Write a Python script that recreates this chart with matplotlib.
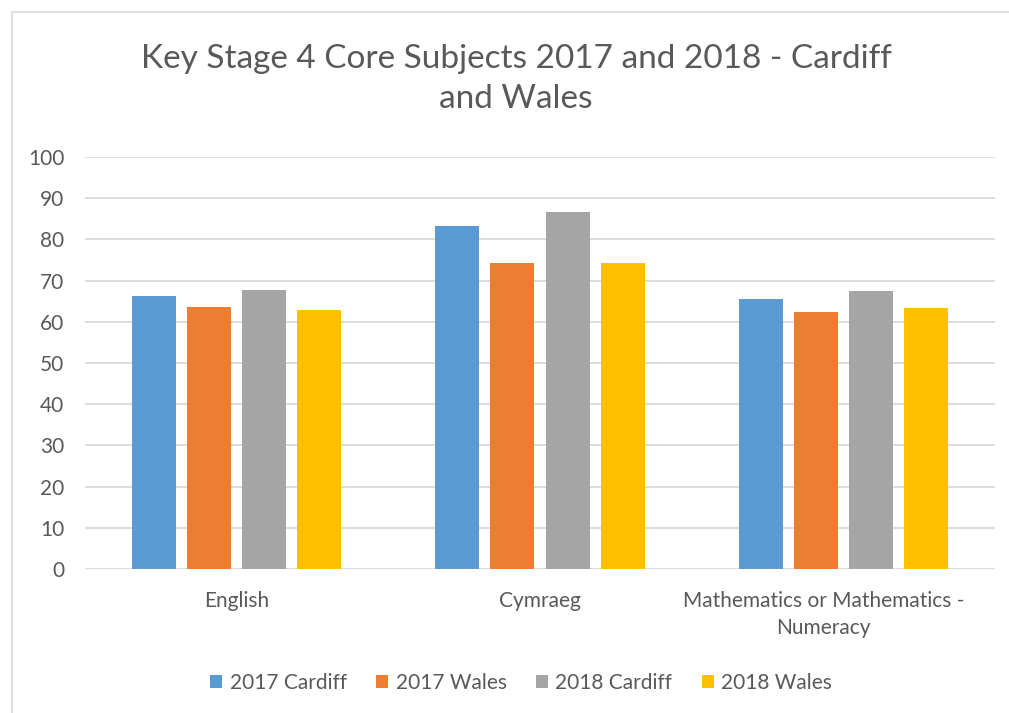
import matplotlib
matplotlib.use("Agg")
import matplotlib.pyplot as plt
import matplotlib.transforms as mtransforms
from matplotlib.patches import Rectangle
import numpy as np

# data
subjects = ["English", "Cymraeg", "Mathematics or Mathematics -\nNumeracy"]
series_names = ["2017 Cardiff", "2017 Wales", "2018 Cardiff", "2018 Wales"]
cardiff_2017 = [66.2, 83.2, 65.5]
wales_2017 = [63.7, 74.3, 62.4]
cardiff_2018 = [67.7, 86.7, 67.4]
wales_2018 = [62.8, 74.3, 63.3]
colors = ["#5B9BD5", "#ED7D31", "#A5A5A5", "#FFC000"]
yticks = [0, 10, 20, 30, 40, 50, 60, 70, 80, 90, 100]

plt.rcParams['font.family'] = ['Lato', 'DejaVu Sans']
text_col = "#595959"

W, H = 1009, 713
fig = plt.figure(figsize=(W / 100, H / 100), dpi=100)

# chart border (grey frame like the Excel chart area)
fig.patches.append(Rectangle((12 / W, -0.01), 1.1, 1 - 12 / H + 0.01,
                             transform=fig.transFigure, fill=False,
                             edgecolor="#d9d9d9", linewidth=1.2))

ax = fig.add_axes([85 / W, 144 / H, 910 / W, 412 / H])

x = np.arange(len(subjects))
step = 0.182
width = 0.145
all_series = [cardiff_2017, wales_2017, cardiff_2018, wales_2018]
for i, vals in enumerate(all_series):
    ax.bar(x + (i - 1.5) * step, vals, width, color=colors[i],
           label=series_names[i], zorder=3)

ax.set_xlim(-0.5, 2.5)
ax.set_ylim(0, 100)
ax.set_yticks(yticks)
ax.grid(axis="y", color="#d9d9d9", linewidth=1.3, zorder=0)
for s in ax.spines.values():
    s.set_visible(False)
ax.tick_params(axis="both", length=0, colors=text_col, labelsize=15)
ax.tick_params(axis="y", pad=15)
ax.tick_params(axis="x", pad=16)
ax.set_xticks(x)
ax.set_xticklabels(subjects, fontsize=15, color=text_col, linespacing=1.45)
# last label sits a bit left of its group, like the original
lbl = ax.get_xticklabels()[2]
lbl.set_transform(lbl.get_transform() + mtransforms.ScaledTranslation(-0.2, 0, fig.dpi_scale_trans))

fig.text(516 / W, 1 - 79 / H, "Key Stage 4 Core Subjects 2017 and 2018 - Cardiff\nand Wales",
         ha="center", va="center", fontsize=24, color=text_col, linespacing=1.45)

fig.legend(loc="center", bbox_to_anchor=(521 / W, 1 - 683 / H), ncol=4,
           frameon=False, handlelength=0.6, handleheight=0.6,
           handletextpad=0.35, columnspacing=1.4, fontsize=15,
           labelcolor=text_col)

fig.savefig("out.png", dpi=100)
